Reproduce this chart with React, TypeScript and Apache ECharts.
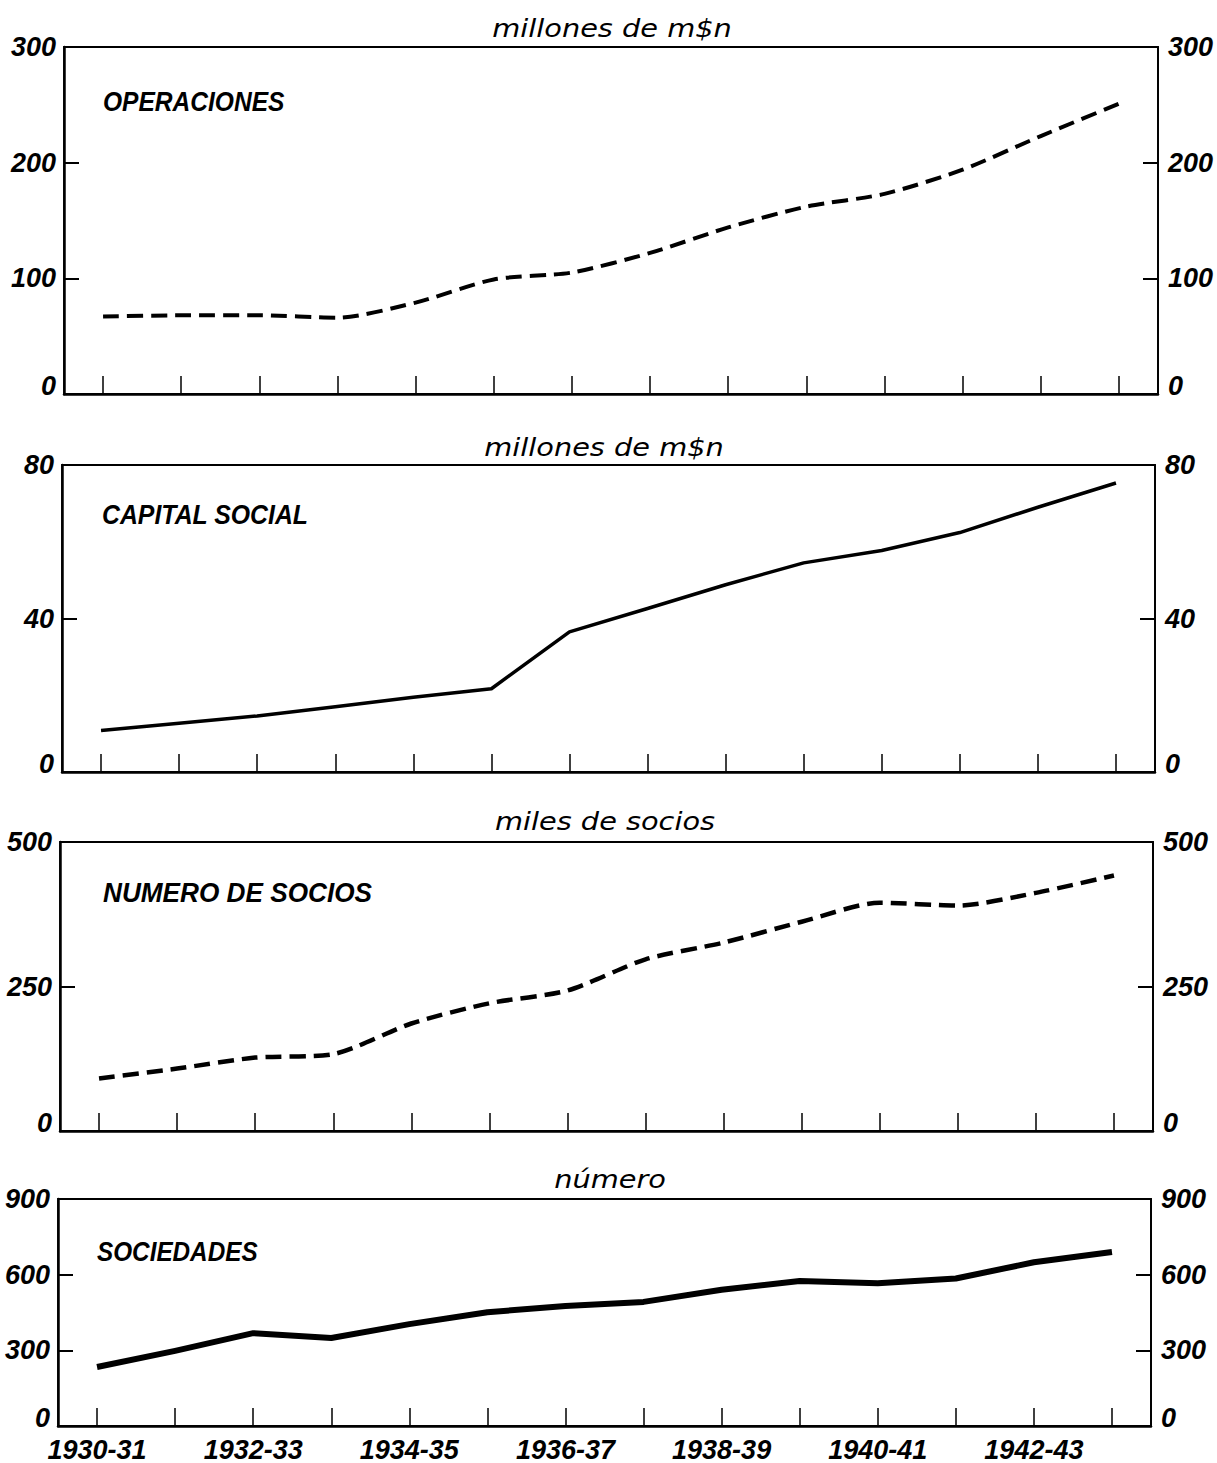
import React, { useEffect, useRef } from "react";
import * as echarts from "echarts";

const categories = [
  "1930-31", "1931-32", "1932-33", "1933-34", "1934-35", "1935-36", "1936-37",
  "1937-38", "1938-39", "1939-40", "1940-41", "1941-42", "1942-43", "1943-44",
];

// OPERACIONES, millones de m$n
const operaciones = [67, 68, 68, 66, 79, 99, 105, 122, 144, 162, 173, 194, 223, 251];
// CAPITAL SOCIAL, millones de m$n
const capitalSocial = [10.8, 12.7, 14.6, 17, 19.5, 21.7, 36.5, 42.6, 48.8, 54.5, 57.7, 62.4, 69, 75.3];
// NUMERO DE SOCIOS, miles de socios
const numeroSocios = [91, 108, 127, 133, 186, 221, 243, 297, 326, 362, 395, 390, 412, 442];
// SOCIEDADES, número
const sociedades = [234, 298, 368, 349, 404, 451, 476, 492, 540, 575, 566, 585, 649, 690];

const panelNames = ["OPERACIONES", "CAPITAL SOCIAL", "NUMERO DE SOCIOS", "SOCIEDADES"];
const unitNames = ["millones de m$n", "millones de m$n", "miles de socios", "número"];
const axisMax = [300, 80, 500, 900];
const axisStep = [100, 40, 250, 300];

const F = "'Liberation Sans', Arial, sans-serif";
const FU = "'DejaVu Sans', sans-serif";

export default function App() {
  const ref = useRef<HTMLDivElement>(null);

  useEffect(() => {
    document.body.style.margin = "0";
    if (!ref.current) return;
    const chart = echarts.init(ref.current, undefined, { renderer: "svg" });

    const grids = [
      { left: 64, top: 47, width: 1094, height: 347 },
      { left: 62, top: 465, width: 1093, height: 307 },
      { left: 60, top: 842, width: 1093, height: 289 },
      { left: 58, top: 1199, width: 1093, height: 230 },
    ];
    const datasets = [operaciones, capitalSocial, numeroSocios, sociedades];
    const lineStyles = [
      { width: 4, type: [16, 8] as any, smooth: 0.25 },
      { width: 3.5, type: "solid" as any, smooth: 0 },
      { width: 4.5, type: [16, 8] as any, smooth: 0.25 },
      { width: 6, type: "solid" as any, smooth: 0 },
    ];

    const labelFont = {
      color: "#000",
      fontFamily: F,
      fontSize: 27,
      fontStyle: "italic" as const,
      fontWeight: "bold" as const,
    };

    const yLabel = {
      show: true,
      margin: 8,
      ...labelFont,
      formatter: (v: number) => (v === 0 ? "{z|0}" : String(v)),
      rich: { z: { ...labelFont, padding: [0, 0, 16, 0] } },
    };

    const xAxis: any[] = [];
    const yAxis: any[] = [];
    const series: any[] = [];
    const graphic: any[] = [];

    grids.forEach((g, i) => {
      xAxis.push({
        type: "category",
        gridIndex: i,
        data: categories,
        boundaryGap: true,
        axisLine: { show: true, lineStyle: { color: "#000", width: 2.5 } },
        axisTick: {
          show: true,
          inside: true,
          length: 18,
          alignWithLabel: true,
          interval: 0,
          lineStyle: { color: "#000", width: 1.5 },
        },
        axisLabel: {
          show: i === 3,
          interval: 1,
          margin: 10,
          ...labelFont,
        },
        splitLine: { show: false },
      });
      ["left", "right"].forEach((pos) => {
        yAxis.push({
          type: "value",
          gridIndex: i,
          position: pos,
          min: 0,
          max: axisMax[i],
          interval: axisStep[i],
          axisLine: { show: true, lineStyle: { color: "#000", width: pos === "left" ? 2.5 : 1.8 } },
          axisTick: { show: true, inside: true, length: 15, lineStyle: { color: "#000", width: 2 } },
          axisLabel: { ...yLabel, margin: pos === "left" ? 8 : 10 },
          splitLine: { show: false },
        });
      });
      series.push({
        type: "line",
        xAxisIndex: i,
        yAxisIndex: i * 2,
        data: datasets[i],
        showSymbol: false,
        symbol: "none",
        smooth: lineStyles[i].smooth,
        lineStyle: { color: "#000", width: lineStyles[i].width, type: lineStyles[i].type, cap: "butt", join: "round" },
      });
    });

    const unitPos = [
      { x: 612, y: 28 },
      { x: 604, y: 447 },
      { x: 605, y: 821 },
      { x: 610, y: 1179 },
    ];
    const namePos = [
      { x: 103, y: 102 },
      { x: 102, y: 515 },
      { x: 103, y: 893 },
      { x: 97, y: 1252 },
    ];
    const nameScale = [0.91, 0.92, 0.97, 0.9];
    unitNames.forEach((t, i) => {
      graphic.push({
        type: "text",
        x: unitPos[i].x,
        y: unitPos[i].y,
        scaleX: 1.2,
        style: {
          text: t,
          x: 0,
          y: 0,
          align: "center",
          verticalAlign: "middle",
          fill: "#000",
          fontFamily: FU,
          fontSize: 24,
          fontStyle: "italic",
          fontWeight: "normal",
        },
      });
    });
    panelNames.forEach((t, i) => {
      graphic.push({
        type: "text",
        x: namePos[i].x,
        y: namePos[i].y,
        scaleX: nameScale[i],
        style: {
          text: t,
          x: 0,
          y: 0,
          align: "left",
          verticalAlign: "middle",
          fill: "#000",
          fontFamily: F,
          fontSize: 27,
          fontStyle: "italic",
          fontWeight: "bold",
        },
      });
    });

    chart.setOption({
      animation: false,
      backgroundColor: "#fff",
      grid: grids.map((g) => ({ ...g, show: true, borderColor: "#000", borderWidth: 1.8, backgroundColor: "transparent" })),
      xAxis,
      yAxis,
      series,
      graphic,
    });

    return () => chart.dispose();
  }, []);

  return <div ref={ref} style={{ width: 1217, height: 1463 }} />;
}
